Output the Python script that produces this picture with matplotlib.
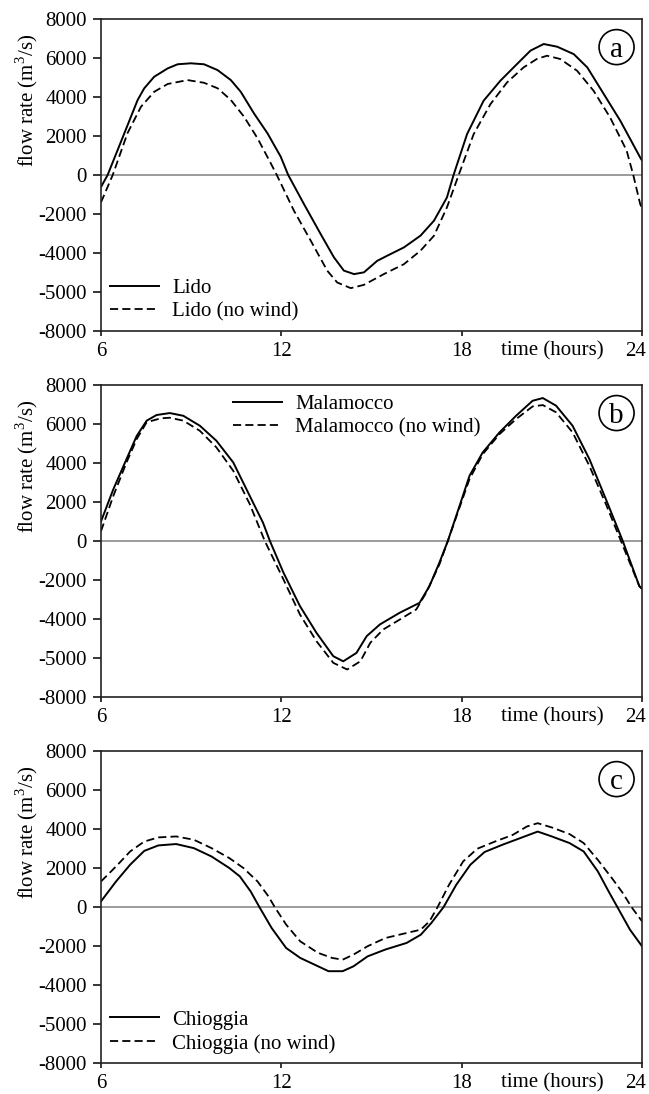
import matplotlib
matplotlib.use("Agg")
import matplotlib.pyplot as plt
import matplotlib.transforms as mtransforms
from matplotlib.patches import Ellipse

plt.rcParams['font.family'] = ['Liberation Serif', 'DejaVu Serif']
plt.rcParams['mathtext.fontset'] = 'custom'
plt.rcParams['mathtext.rm'] = 'Liberation Serif'

# tick positions and the labels as printed in the source figure
ytick_pos = [8000, 6000, 4000, 2000, 0, -2000, -4000, -6000, -8000]
ytick_lab = ['8000', '6000', '4000', '2000', '0', '-2000', '-4000', '-5000', '-8000']
xtick_pos = [6, 12, 18, 24]

# Lido
lido_t = [6.0, 6.22, 6.6, 7.22, 7.44, 7.77, 8.22, 8.55, 8.99, 9.43, 9.88, 10.32, 10.65, 11.09,
          11.54, 11.98, 12.23, 12.75, 13.31, 13.75, 14.08, 14.42, 14.75, 15.19, 15.52, 16.08,
          16.63, 17.08, 17.51, 17.73, 18.18, 18.73, 19.29, 19.84, 20.29, 20.73, 21.18, 21.73,
          22.18, 22.73, 23.28, 23.94, 24.0]
lido = [-615, 0, 1460, 3850, 4450, 5040, 5470, 5680, 5730, 5680, 5380, 4870, 4270, 3160,
        2140, 940, 0, -1480, -3030, -4220, -4900, -5080, -4990, -4400, -4140, -3710,
        -3110, -2340, -1150, 0, 2100, 3810, 4840, 5690, 6380, 6720, 6580, 6200,
        5520, 4150, 2780, 900, 750]
lido_nw_t = [6.0, 6.39, 6.88, 7.33, 7.77, 8.22, 8.88, 9.43, 9.88, 10.32, 10.76, 11.21, 11.65,
             11.85, 12.42, 12.98, 13.53, 13.86, 14.31, 14.75, 15.41, 16.08, 16.63, 17.08,
             17.51, 17.9, 18.4, 18.96, 19.51, 20.06, 20.5, 20.84, 21.28, 21.84, 22.39, 22.94,
             23.49, 23.71, 23.94, 24.0]
lido_nw = [-1400, 0, 2140, 3500, 4270, 4670, 4870, 4730, 4450, 3850, 2990, 1880, 600,
           0, -1830, -3370, -4910, -5510, -5800, -5630, -5080, -4570, -3880, -3110,
           -1660, 0, 2100, 3640, 4750, 5520, 5950, 6120, 5950, 5350, 4320, 2950,
           1250, 0, -1490, -1700]

# Malamocco
mal_t = [6.0, 6.41, 6.85, 7.19, 7.52, 7.85, 8.29, 8.74, 9.29, 9.84, 10.4, 10.95, 11.39, 11.62,
         12.07, 12.62, 13.17, 13.73, 14.06, 14.5, 14.84, 15.28, 15.94, 16.6, 16.93, 17.26,
         17.54, 17.93, 18.26, 18.7, 19.26, 19.81, 20.36, 20.7, 21.14, 21.69, 22.25, 22.8,
         23.36, 23.91, 24.0]
mal = [1000, 2650, 4200, 5390, 6170, 6460, 6560, 6420, 5910, 5140, 4030, 2310, 940, 0,
       -1620, -3340, -4710, -5910, -6170, -5740, -4880, -4280, -3680, -3170, -2310, -1110,
       0, 1800, 3340, 4540, 5570, 6420, 7190, 7330, 6940, 5910, 4200, 2140,
       0, -2310, -2450]
mal_nw_t = [6.0, 6.41, 6.85, 7.19, 7.52, 7.99, 8.29, 8.74, 9.29, 9.84, 10.4, 10.95, 11.45,
            12.07, 12.62, 13.17, 13.73, 14.19, 14.63, 14.96, 15.39, 15.94, 16.49, 16.82,
            17.26, 17.54, 17.93, 18.26, 18.7, 19.26, 19.81, 20.36, 20.7, 21.14, 21.69, 22.25,
            22.8, 23.3, 23.91, 24.0]
mal_nw = [500, 2310, 4030, 5230, 6090, 6290, 6320, 6170, 5650, 4800, 3600, 1890, 0,
          -1970, -3770, -5140, -6250, -6590, -6170, -5220, -4540, -4030, -3510, -2650,
          -1200, 0, 1720, 3170, 4450, 5480, 6250, 6900, 6970, 6600, 5570, 3850,
          1890, 0, -2310, -2450]

# Chioggia
chi_t = [6.0, 6.5, 6.97, 7.44, 7.91, 8.5, 9.09, 9.68, 10.27, 10.62, 10.98, 11.27, 11.68, 12.16,
         12.63, 13.1, 13.57, 14.04, 14.4, 14.87, 15.46, 16.17, 16.64, 16.99, 17.4, 17.82,
         18.29, 18.76, 19.35, 19.94, 20.53, 21.0, 21.59, 22.06, 22.53, 22.89, 23.18, 23.6, 24.0]
chi = [290, 1310, 2170, 2880, 3160, 3230, 3020, 2590, 2000, 1570, 800, 0, -1080, -2100,
       -2610, -2950, -3290, -3290, -3040, -2530, -2180, -1840, -1420, -820, 0, 1140,
       2170, 2820, 3190, 3530, 3870, 3620, 3280, 2850, 1830, 800, 0, -1160, -2010]
chi_nw_t = [6.0, 6.5, 6.97, 7.44, 7.91, 8.5, 9.09, 9.68, 10.27, 10.74, 11.21, 11.57, 11.78,
            12.16, 12.63, 13.22, 13.69, 14.04, 14.4, 14.87, 15.46, 16.17, 16.64, 16.93, 17.2,
            17.58, 18.05, 18.52, 19.11, 19.7, 20.17, 20.53, 21.0, 21.59, 22.06, 22.53, 23.0,
            23.36, 23.65, 24.0]
chi_nw = [1310, 2080, 2850, 3360, 3570, 3620, 3450, 3020, 2510, 2000, 1310, 550, 0,
          -900, -1760, -2350, -2610, -2700, -2440, -2010, -1590, -1330, -1160, -730, 0,
          1140, 2340, 2990, 3360, 3700, 4130, 4300, 4080, 3740, 3280, 2420, 1480,
          720, 0, -730]

panels = [
    (lido_t, lido, lido_nw_t, lido_nw, 'Lido', 'a', 'lower left', (0.0, 0.0)),
    (mal_t, mal, mal_nw_t, mal_nw, 'Malamocco', 'b', 'upper left', (0.227, 1.0)),
    (chi_t, chi, chi_nw_t, chi_nw, 'Chioggia', 'c', 'lower left', (0.0, 0.0)),
]

fig = plt.figure(figsize=(6.49, 10.94), dpi=100)
boxes = [(0.1556, 0.6974, 0.8336, 0.2852),
         (0.1556, 0.3629, 0.8336, 0.2852),
         (0.1556, 0.0283, 0.8336, 0.2852)]

# shift the "24" label left so it stays inside the figure, as in the source
shift_24 = mtransforms.ScaledTranslation(-6 / 100, 0, fig.dpi_scale_trans)

for box, (t1, v1, t2, v2, name, letter, loc, anchor) in zip(boxes, panels):
    ax = fig.add_axes(box)
    ax.axhline(0, color='#8a8a8a', lw=1.2, zorder=1)
    ax.plot(t1, v1, color='black', lw=1.4, label=name)
    ax.plot(t2, v2, color='black', lw=1.3, ls=(0, (4.5, 2.3)), label=name + ' (no wind)')
    ax.set_xlim(6, 24)
    ax.set_ylim(-8000, 8000)
    ax.set_xticks(xtick_pos)
    ax.set_yticks(ytick_pos)
    ax.set_yticklabels(ytick_lab)
    ax.tick_params(labelsize=15, direction='out', width=1.1)
    ax.tick_params(axis='y', length=6, pad=4)
    ax.tick_params(axis='x', length=3.6, pad=4)
    last = ax.get_xticklabels()[-1]
    last.set_transform(last.get_transform() + shift_24)
    for s in ax.spines.values():
        s.set_linewidth(1.2)
        s.set_color('#222222')
    ax.set_ylabel('flow rate (m$^3$/s)', fontsize=15)
    ax.yaxis.set_label_coords(-0.112, 0.74)
    ax.annotate('time (hours)', xy=(21.0, 0), xycoords=('data', 'axes fraction'),
                xytext=(0, -7.6), textcoords='offset points', ha='center', va='top',
                fontsize=15)
    ax.add_patch(Ellipse((0.953, 0.91), 35 / 541, 35 / 312, transform=ax.transAxes,
                         fc='white', ec='black', lw=1.2, zorder=5))
    ax.text(0.953, 0.91, letter, transform=ax.transAxes, fontsize=21, ha='center',
            va='center_baseline', zorder=6)
    ax.legend(loc=loc, bbox_to_anchor=anchor, frameon=False, fontsize=15, handlelength=2.35,
              handletextpad=0.63, labelspacing=0.2, borderaxespad=0.05, borderpad=0.4)

fig.savefig('out.png', dpi=100)
